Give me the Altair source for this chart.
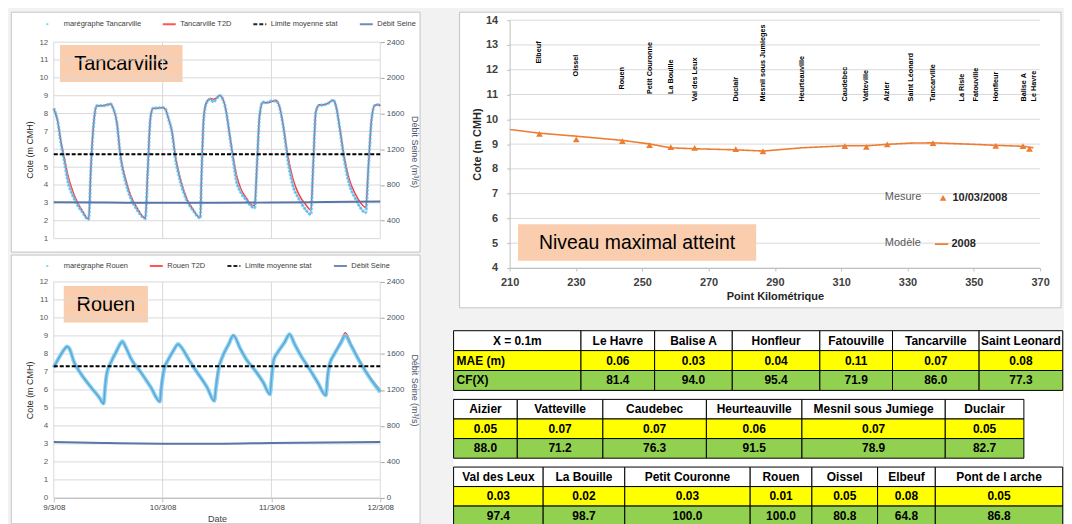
import json
import altair as alt
import pandas as pd

# ---------------------------------------------------------------- data
date_labels = ["9/3/08", "10/3/08", "11/3/08", "12/3/08"]

# Tancarville tide gauge vs model (hours after 9/3/08 00:00, m CMH)
tanc_hours = [0, 0.9, 1.6, 2.2, 3.1, 4.2, 5.3, 6.4, 7.3, 7.7,
              8.2, 8.9, 9.5, 10.5, 11.5, 12.5, 13.1, 13.9, 14.7, 15.8,
              16.9, 18.4, 19.7, 20.2, 20.7, 21.3, 21.9, 22.8, 23.9, 24.6,
              25.3, 26.1, 26.8, 27.9, 29.3, 30.8, 31.8, 32.3, 32.6, 33.1,
              33.7, 34.5, 35.2, 35.9, 36.6, 37.7, 39.0, 39.5, 40.3, 41.2,
              42.5, 43.6, 44.3, 44.8, 45.4, 46.1, 46.8, 47.9, 49.0, 49.8,
              50.6, 51.6, 52.7, 54.1, 55.6, 56.7, 57.2, 57.8, 58.5, 59.7,
              60.7, 61.6, 62.2, 63.1, 64.0, 65.1, 66.6, 67.7, 68.8, 69.4,
              70.1, 70.8, 71.6, 72.0]
tanc_model = [8.25, 7.54, 6.42, 5.68, 4.57, 3.64, 2.99, 2.52, 2.15, 2.10,
              5.12, 7.72, 8.43, 8.43, 8.50, 8.54, 8.28, 7.54, 5.68, 4.38,
              3.45, 2.71, 2.22, 2.15, 4.75, 7.72, 8.28, 8.30, 8.32, 8.25,
              7.72, 6.98, 5.68, 4.38, 3.26, 2.61, 2.25, 2.18, 4.75, 7.91,
              8.65, 8.84, 8.80, 8.88, 9.03, 8.50, 6.50, 5.68, 4.57, 3.82,
              3.26, 2.89, 2.85, 5.12, 7.91, 8.62, 8.60, 8.65, 8.75, 8.38,
              7.35, 5.68, 4.38, 3.45, 2.89, 2.60, 5.12, 8.10, 8.50, 8.50,
              8.62, 8.75, 8.47, 7.17, 5.68, 4.38, 3.45, 2.99, 2.74, 5.12,
              7.72, 8.47, 8.50, 8.43]
tanc_measured = [8.30, 7.50, 6.30, 5.50, 4.20, 3.40, 2.85, 2.45, 2.12, 2.08,
                 5.00, 7.70, 8.45, 8.45, 8.45, 8.55, 8.30, 7.50, 5.60, 4.20,
                 3.30, 2.60, 2.18, 2.12, 4.60, 7.70, 8.30, 8.30, 8.35, 8.25,
                 7.70, 6.90, 5.50, 4.20, 3.15, 2.55, 2.22, 2.15, 4.60, 7.80,
                 8.60, 8.80, 8.65, 8.85, 9.00, 8.50, 6.40, 5.50, 4.20, 3.60,
                 3.15, 2.80, 2.72, 5.00, 7.90, 8.65, 8.60, 8.70, 8.70, 8.35,
                 7.30, 5.40, 4.00, 3.20, 2.60, 2.35, 5.00, 8.10, 8.45, 8.50,
                 8.60, 8.75, 8.45, 7.10, 5.50, 4.10, 3.20, 2.70, 2.45, 5.00,
                 7.70, 8.45, 8.50, 8.45]
tanc_limit = 5.72

# Rouen tide gauge vs model
rouen_hours = [0, 1.2, 2.5, 2.9, 3.4, 4.5, 6.0, 8.2, 10.0, 11.0,
               11.3, 11.7, 12.6, 13.7, 14.8, 15.1, 15.9, 17.0, 19.2, 21.4,
               23.4, 23.7, 24.3, 25.4, 26.5, 27.4, 28.3, 29.8, 31.6, 33.8,
               35.4, 35.8, 36.4, 37.3, 38.6, 39.6, 41.1, 42.5, 44.7, 46.2,
               47.7, 48.0, 48.5, 49.4, 50.9, 52.0, 53.1, 54.5, 56.4, 58.2,
               60.0, 60.4, 60.8, 61.9, 63.3, 64.3, 65.5, 67.4, 69.6, 72.0]
rouen_model = [7.26, 7.81, 8.31, 8.40, 8.28, 7.53, 6.89, 6.15, 5.59, 5.20,
               6.30, 7.00, 7.53, 8.09, 8.58, 8.65, 8.36, 7.75, 6.98, 6.15,
               5.33, 6.30, 7.18, 7.75, 8.23, 8.52, 8.31, 7.68, 6.98, 6.15,
               5.36, 6.45, 7.28, 7.90, 8.55, 9.05, 8.31, 7.68, 6.98, 6.42,
               5.74, 6.85, 7.72, 8.09, 8.64, 9.10, 8.55, 7.90, 7.16, 6.42,
               5.68, 7.00, 7.44, 8.00, 8.68, 9.18, 8.58, 7.66, 6.76, 6.00]
rouen_measured = [7.26, 7.81, 8.31, 8.42, 8.32, 7.53, 6.89, 6.15, 5.59, 5.25,
                  6.05, 6.90, 7.53, 8.09, 8.62, 8.70, 8.36, 7.75, 6.98, 6.15,
                  5.36, 6.05, 7.10, 7.75, 8.23, 8.55, 8.31, 7.68, 6.98, 6.15,
                  5.40, 6.15, 7.20, 7.90, 8.55, 9.03, 8.31, 7.68, 6.98, 6.42,
                  5.76, 6.50, 7.65, 8.09, 8.64, 9.10, 8.55, 7.90, 7.16, 6.42,
                  5.70, 6.70, 7.40, 8.00, 8.60, 9.02, 8.50, 7.60, 6.70, 5.88]
rouen_limit = 7.31

# Seine discharge (m3/s)
debit_hours = [0, 12, 24, 36, 48, 60, 72]
tanc_debit = [608, 604, 600, 600, 604, 610, 616]
rouen_debit = [620, 610, 603, 602, 610, 616, 620]

# Maximum level profile along the estuary
stations = ["Elbeuf", "Oissel", "Rouen", "Petit Couronne", "La Bouille", "Val des Leux",
            "Duclair", "Mesnil sous Jumieges", "Heurteauville", "Caudebec", "Vatteville",
            "Aizier", "Saint Léonard", "Tancarville", "La Risle", "Fatouville", "Honfleur",
            "Balise A", "Le Havre"]
station_km = [219.0, 230.1, 244.0, 252.2, 258.6, 265.8, 278.2, 286.4, 298.2, 311.1,
              317.6, 323.9, 331.2, 337.7, 346.5, 350.8, 356.6, 365.1, 368.1]
station_label_level = [12.25, 11.73, 11.2, 11.02, 11.02, 10.72, 10.72, 10.72, 10.72, 10.72,
                       10.72, 10.72, 10.72, 10.72, 10.72, 10.72, 10.72, 10.72, 10.72]
mesure_km = [219.0, 230.1, 244.0, 252.2, 258.6, 265.8, 278.2, 286.4, 311.1, 317.6,
             323.9, 337.7, 356.6, 364.8, 366.8]
mesure_level = [9.41, 9.19, 9.12, 8.96, 8.88, 8.85, 8.80, 8.71, 8.92, 8.89,
                8.99, 9.04, 8.93, 8.92, 8.81]
modele_km = [210, 219, 230, 244, 252, 258.5, 266, 278, 286.4, 298, 311, 317.5, 324,
             331, 337.7, 350, 356.6, 365, 368]
modele_level = [9.59, 9.44, 9.32, 9.15, 9.01, 8.85, 8.81, 8.77, 8.72, 8.85, 8.93, 8.93,
                8.99, 9.04, 9.05, 8.99, 8.95, 8.91, 8.85]
profile_km_ticks = [210, 230, 250, 270, 290, 310, 330, 350, 370]
profile_level_ticks = [4, 5, 6, 7, 8, 9, 10, 11, 12, 13, 14]

# Score tables
t1_header = ["X = 0.1m", "Le Havre", "Balise A", "Honfleur", "Fatouville", "Tancarville", "Saint Leonard"]
t1_mae = ["MAE (m)", "0.06", "0.03", "0.04", "0.11", "0.07", "0.08"]
t1_cf = ["CF(X)", "81.4", "94.0", "95.4", "71.9", "86.0", "77.3"]
t2_header = ["Aizier", "Vatteville", "Caudebec", "Heurteauville", "Mesnil sous Jumiege", "Duclair"]
t2_mae = ["0.05", "0.07", "0.07", "0.06", "0.07", "0.05"]
t2_cf = ["88.0", "71.2", "76.3", "91.5", "78.9", "82.7"]
t3_header = ["Val des Leux", "La Bouille", "Petit Couronne", "Rouen", "Oissel", "Elbeuf", "Pont de l arche"]
t3_mae = ["0.03", "0.02", "0.03", "0.01", "0.05", "0.08", "0.05"]
t3_cf = ["97.4", "98.7", "100.0", "100.0", "80.8", "64.8", "86.8"]

# ---------------------------------------------------------------- style / layout
FONT = "Liberation Sans"
GRID = "#D9D9D9"
AXIS_GREY = "#BFBFBF"
PANEL_STROKE = "#C4C4C4"
PAGE_BG = "#F2F2F2"
PEACH = "#F9CDAE"
RED = "#FF3838"
MEAS = "#6FCDF2"
MEAS_CORE = "#3F8ED0"
DEBIT = "#5877A8"
DEBIT_TXT = "#44546A"
ORANGE = "#ED7D31"
YELLOW = "#FFFF00"
GREEN = "#92D050"

TIDE_W = 328
ONE = pd.DataFrame({"k": [0]})
day_ticks = [24 * i for i in range(len(date_labels))]


def panel(w, h, left, right, top, bottom):
    return alt.Chart(ONE).mark_rect(fill="white", stroke=PANEL_STROKE, strokeWidth=1).encode(
        x=alt.value(-left), x2=alt.value(w + right), y=alt.value(-top), y2=alt.value(h + bottom))


def label_box(text, x0, x1, y0, y1, size):
    rect = alt.Chart(ONE).mark_rect(fill=PEACH).encode(
        x=alt.value(x0), x2=alt.value(x1), y=alt.value(y0), y2=alt.value(y1))
    txt = alt.Chart(ONE).mark_text(text=text, font=FONT, fontSize=size, color="black",
                                   align="center", baseline="middle").encode(
        x=alt.value((x0 + x1) / 2), y=alt.value((y0 + y1) / 2 + 1))
    return [rect, txt]


def tide_chart(name, hours, model, measured, limit, debit, y_min, y_top, height, bottom_axis,
               box, legend_y, panel_top, panel_bottom, title_y, meas_dash):
    dom = [f"marégraphe {name}", f"{name} T2D", "Limite moyenne stat", "Débit Seine"]
    leg = alt.Legend(orient="none", legendX=-9, legendY=legend_y, direction="horizontal",
                     columns=4, gridAlign="each", columnPadding=17, title=None,
                     symbolType="stroke", symbolSize=170, symbolStrokeWidth=2,
                     labelFont=FONT, labelFontSize=7.5, labelColor="#404040", labelOffset=3, zindex=1)
    color = alt.Color("serie:N", scale=alt.Scale(domain=dom, range=[MEAS, RED, "#000000", DEBIT]),
                      legend=leg)
    dash = alt.StrokeDash("serie:N", scale=alt.Scale(domain=dom, range=[[2, 40], [1, 0], [4, 2], [1, 0]]),
                          legend=leg)
    if bottom_axis:
        xaxis = alt.Axis(values=day_ticks,
                         labelExpr=f"{json.dumps(date_labels)}[round(datum.value / 24)]",
                         title="Date", grid=False, tickSize=4, tickColor=AXIS_GREY,
                         domainColor=AXIS_GREY, labelFont=FONT, labelFontSize=8, labelColor="#404040",
                         labelPadding=2, labelFlush=False, labelOverlap=False, titleFont=FONT,
                         titleFontSize=9, titleFontWeight="normal", titleColor="#404040",
                         titlePadding=3, zindex=1)
    else:
        xaxis = alt.Axis(values=day_ticks, labels=False, ticks=False, domain=False,
                         title=None, grid=False)
    xenc = alt.X("t:Q", scale=alt.Scale(domain=[0, 72], nice=False, zero=False), axis=xaxis)
    yvals = [v for v in range(13) if v >= y_min]
    yaxis_kw = dict(values=yvals, title="Cote (m CMH)", grid=False, ticks=False, domain=False,
                    labelFont=FONT, labelFontSize=8, labelColor="#595959", labelPadding=6,
                    labelOverlap=False, labelBound=False,
                    titleFont=FONT, titleFontSize=9, titleFontWeight="normal", titleColor="#262626",
                    titlePadding=4, zindex=1)
    if title_y is not None:
        yaxis_kw["titleY"] = title_y
    yenc = alt.Y("v:Q", scale=alt.Scale(domain=[y_min, y_top], nice=False, zero=False),
                 axis=alt.Axis(**yaxis_kw))
    qvals = [q for q in range(0, 2401, 400) if q >= y_min * 200]
    qaxis_kw = dict(orient="right", values=qvals, format="d", title="Débit Seine (m³/s)", grid=False,
                    tickSize=4, tickColor="#A6A6A6", domain=False, labelFont=FONT,
                    labelFontSize=8, labelColor=DEBIT_TXT, labelPadding=2, labelOverlap=False,
                    titleFont=FONT, titleFontSize=9, titleFontWeight="normal",
                    titleColor=DEBIT_TXT, titlePadding=6, zindex=1)
    if title_y is not None:
        qaxis_kw["titleY"] = title_y + 2
    qenc = alt.Y("q:Q", scale=alt.Scale(domain=[y_min * 200, y_top * 200], nice=False, zero=False),
                 axis=alt.Axis(**qaxis_kw))

    model_df = pd.DataFrame({"t": hours, "v": model, "serie": dom[1]})
    meas_df = pd.DataFrame({"t": hours, "v": measured, "serie": dom[0]})
    lim_df = pd.DataFrame({"t": [day_ticks[0], day_ticks[-1]], "v": [limit, limit], "serie": dom[2]})
    deb_df = pd.DataFrame({"t": debit_hours, "q": debit, "serie": dom[3]})
    gridv_df = pd.DataFrame({"t": day_ticks, "v": yvals[0], "v2": yvals[-1]})

    grid_h = alt.Chart(pd.DataFrame({"v": yvals})).mark_rule(color=GRID, strokeWidth=1).encode(y=yenc)
    grid_v = alt.Chart(gridv_df).mark_rule(color=GRID, strokeWidth=1).encode(
        x=xenc, y=yenc, y2="v2:Q")
    model_line = alt.Chart(model_df).mark_line(strokeWidth=1.5, interpolate="monotone").encode(
        x=xenc, y=yenc, color=color)
    band_kw = dict(strokeWidth=3.2 if meas_dash else 4, opacity=0.85, interpolate="monotone")
    if meas_dash:
        band_kw["strokeDash"] = [2.5, 1.2]
    meas_band = alt.Chart(meas_df).mark_line(**band_kw).encode(x=xenc, y=yenc, color=color)
    meas_core = alt.Chart(meas_df).mark_line(strokeWidth=1.2, opacity=0.5, color=MEAS_CORE,
                                             interpolate="monotone").encode(x=xenc, y=yenc)
    lim_line = alt.Chart(lim_df).mark_line(strokeWidth=2).encode(
        x=xenc, y=yenc, color=color, strokeDash=dash)
    left_layer = alt.layer(grid_h, grid_v, model_line, meas_band, meas_core, lim_line)
    deb_line = alt.Chart(deb_df).mark_line(strokeWidth=2, interpolate="monotone").encode(
        x=xenc, y=qenc, color=color)

    layers = [panel(TIDE_W, height, 42.7, 40, panel_top, panel_bottom)]
    layers += label_box(name, *box, 20)
    layers += [left_layer, deb_line]
    return alt.layer(*layers).resolve_scale(y="independent").properties(width=TIDE_W, height=height)


tanc = tide_chart("Tancarville", tanc_hours, tanc_model, tanc_measured, tanc_limit, tanc_debit,
                  0.3, 13.23, 232, False, (6.3, 129.3, 25, 62), -4, 8, 1, 130, True)
rouen = tide_chart("Rouen", rouen_hours, rouen_model, rouen_measured, rouen_limit, rouen_debit,
                   0, 12, 217, True, (10, 94.6, 4, 40.7), -24, 27, 26, None, False)

# ---------------------------------------------------------------- profile chart
PW, PH = 533, 249
xk = alt.X("km:Q", scale=alt.Scale(domain=[profile_km_ticks[0], profile_km_ticks[-1]], nice=False, zero=False),
           axis=alt.Axis(values=profile_km_ticks, title="Point Kilométrique", grid=False,
                         labelFont=FONT, labelFontSize=11, labelFontWeight="bold", labelColor="#404040",
                         tickSize=3, tickColor=AXIS_GREY, domainColor=AXIS_GREY, labelPadding=6,
                         labelFlush=False, labelOverlap=False, titleFont=FONT, titleFontSize=11,
                         titleFontWeight="bold", titleColor="#262626", titlePadding=3, zindex=1))
yk = alt.Y("z:Q", scale=alt.Scale(domain=[profile_level_ticks[0], profile_level_ticks[-1]], nice=False, zero=False),
           axis=alt.Axis(values=profile_level_ticks, title="Cote (m CMH)", grid=False,
                         tickSize=3, tickColor=AXIS_GREY, domainColor=AXIS_GREY, labelFont=FONT,
                         labelFontSize=11, labelFontWeight="bold", labelColor="#404040", labelPadding=9,
                         labelOverlap=False, titleFont=FONT, titleFontSize=11, titleFontWeight="bold",
                         titleColor="#262626", titlePadding=3, zindex=1))

mod_df = pd.DataFrame({"km": modele_km, "z": modele_level, "modele": "2008"})
mes_df = pd.DataFrame({"km": mesure_km, "z": mesure_level, "mesure": "10/03/2008"})
lab_df = pd.DataFrame({"km": station_km, "z": station_label_level, "name": stations})

mod_leg = alt.Legend(orient="none", legendX=377, legendY=217, title="Modèle", titleOrient="left",
                     titleFont=FONT, titleFontSize=11, titleFontWeight="normal", titleColor="#595959",
                     titlePadding=12, labelFont=FONT, labelFontSize=11, labelFontWeight="bold",
                     labelColor="#262626", labelOffset=2, symbolType="stroke", symbolSize=180,
                     symbolStrokeColor=ORANGE, symbolStrokeWidth=1.6, zindex=1)
mes_leg = alt.Legend(orient="none", legendX=377, legendY=173, title="Mesure", titleOrient="left",
                     titleFont=FONT, titleFontSize=11, titleFontWeight="normal", titleColor="#595959",
                     titlePadding=16, labelFont=FONT, labelFontSize=11, labelFontWeight="bold",
                     labelColor="#262626", labelOffset=4, symbolSize=45, symbolFillColor=ORANGE,
                     symbolStrokeColor=ORANGE, symbolStrokeWidth=0, zindex=1)

prof_grid = alt.Chart(pd.DataFrame({"z": profile_level_ticks})).mark_rule(color=GRID, strokeWidth=1).encode(y=yk)
mod_line = alt.Chart(mod_df).mark_line(color=ORANGE, strokeWidth=1.6).encode(
    x=xk, y=yk,
    strokeDash=alt.StrokeDash("modele:N", scale=alt.Scale(domain=["2008"], range=[[1, 0]]), legend=mod_leg))
mes_pts = alt.Chart(mes_df).mark_point(filled=True, color=ORANGE, size=45, opacity=1).encode(
    x=xk, y=yk,
    shape=alt.Shape("mesure:N", scale=alt.Scale(domain=["10/03/2008"], range=["triangle-up"]), legend=mes_leg))
st_labels = alt.Chart(lab_df).mark_text(angle=270, align="left", baseline="middle", font=FONT,
                                        fontSize=7.3, fontWeight="bold", color="black").encode(
    x=xk, y=yk, text="name:N")

prof_layers = [panel(PW, PH, 50.3, 21, 8, 40), prof_grid]
prof_layers += label_box("Niveau maximal atteint", 8.4, 247.7, 205, 241.7, 19.5)
prof_layers += [mod_line, mes_pts, st_labels]
profile = alt.layer(*prof_layers).properties(width=PW, height=PH)

# ---------------------------------------------------------------- tables
TABLE_W, TABLE_H = 556, 196
TABLE_SHIFT = 56.3
T_TOPS = [0, 69, 137]
T_ROWH = [20, 19.7, 19.6]
T_WIDTHS = [[128, 74, 78, 88, 73, 87, 84],
            [64, 86, 104, 96, 144, 79],
            [90, 82, 126, 62, 66, 58, 128]]
ROW_FILLS = ["#FFFFFF", YELLOW, GREEN]
all_tables = [(t1_header, t1_mae, t1_cf), (t2_header, t2_mae, t2_cf), (t3_header, t3_mae, t3_cf)]

recs = []
for ti, rows in enumerate(all_tables):
    edges = [0]
    for w in T_WIDTHS[ti]:
        edges.append(edges[-1] + w)
    for ri, row in enumerate(rows):
        y0 = T_TOPS[ti] + ri * T_ROWH[ti]
        y1 = y0 + T_ROWH[ti]
        for ci, txt in enumerate(row):
            recs.append(dict(x0=edges[ci], x1=edges[ci + 1], y0=y0, y1=y1, fill=ROW_FILLS[ri],
                             label=txt, left=bool(ti == 0 and ci == 0 and ri > 0),
                             xc=(edges[ci] + edges[ci + 1]) / 2, xl=edges[ci] + 3, yc=(y0 + y1) / 2))
cells = pd.DataFrame(recs)

tx = alt.Scale(domain=[TABLE_SHIFT, TABLE_SHIFT + TABLE_W], nice=False, zero=False)
ty = alt.Scale(domain=[0, TABLE_H], reverse=True, nice=False, zero=False)
backdrop = alt.Chart(pd.DataFrame({"x0": [0], "x1": [TABLE_SHIFT + TABLE_W], "y0": [0], "y1": [TABLE_H]})
                     ).mark_rect(fill="white").encode(
    x=alt.X("x0:Q", scale=tx, axis=None), x2="x1:Q",
    y=alt.Y("y0:Q", scale=ty, axis=None), y2="y1:Q")
cell_rects = alt.Chart(cells).mark_rect(stroke="black", strokeWidth=1).encode(
    x=alt.X("x0:Q", scale=tx, axis=None), x2="x1:Q",
    y=alt.Y("y0:Q", scale=ty, axis=None), y2="y1:Q",
    fill=alt.Fill("fill:N", scale=None))
cell_text = alt.Chart(cells).transform_filter("!datum.left").mark_text(
    font=FONT, fontSize=12, fontWeight="bold", color="black", align="center", baseline="middle").encode(
    x=alt.X("xc:Q", scale=tx, axis=None), y=alt.Y("yc:Q", scale=ty, axis=None), text="label:N")
cell_text_left = alt.Chart(cells).transform_filter("datum.left").mark_text(
    font=FONT, fontSize=12, fontWeight="bold", color="black", align="left", baseline="middle").encode(
    x=alt.X("xl:Q", scale=tx, axis=None), y=alt.Y("yc:Q", scale=ty, axis=None), text="label:N")
tables = alt.layer(backdrop, cell_rects, cell_text, cell_text_left).properties(width=TABLE_W, height=TABLE_H)

# ---------------------------------------------------------------- assemble
left_col = alt.vconcat(tanc, rouen, spacing=1).resolve_scale(color="independent", strokeDash="independent")
right_col = alt.vconcat(profile, tables, spacing=21).resolve_scale(strokeDash="independent",
                                                                   shape="independent")
chart = (alt.hconcat(left_col, right_col, spacing=31)
         .resolve_scale(color="independent", strokeDash="independent", shape="independent")
         .properties(padding={"left": 2, "top": 2, "right": 0, "bottom": 0}, background=PAGE_BG)
         .configure_view(stroke=None)
         .configure(font=FONT))

chart.save("out.html", embed_options={"renderer": "svg", "actions": False})
